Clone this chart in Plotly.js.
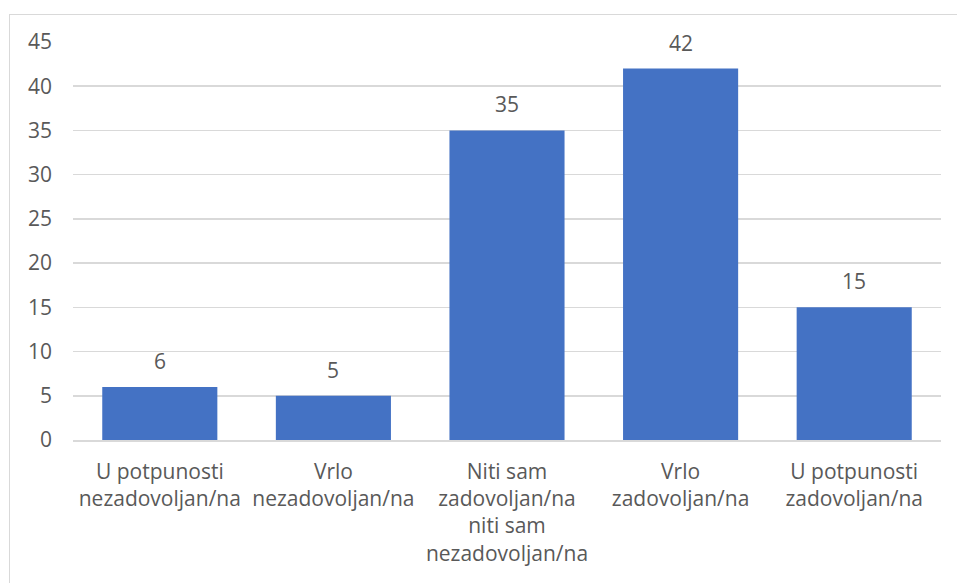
<!DOCTYPE html>
<html>
<head>
<meta charset="utf-8">
<script src="https://cdn.plot.ly/plotly-3.0.1.min.js"></script>
<style>
  html, body { margin: 0; padding: 0; background: #ffffff; }
  #frame { position: absolute; left: 9px; top: 14px; width: 960px; height: 600px; border: 1px solid #d9d9d9; box-sizing: border-box; }
  #chart { position: absolute; left: 0; top: 0; width: 957px; height: 583px; }
</style>
</head>
<body>
<div id="frame"></div>
<div id="chart"></div>
<script>
const categories = [
  "U potpunosti<br>nezadovoljan/na",
  "Vrlo<br>nezadovoljan/na",
  "Niti sam<br>zadovoljan/na<br>niti sam<br>nezadovoljan/na",
  "Vrlo<br>zadovoljan/na",
  "U potpunosti<br>zadovoljan/na"
];
const values = [6, 5, 35, 42, 15];
const yTicks = [0, 5, 10, 15, 20, 25, 30, 35, 40, 45];

const FONT = "'Open Sans', sans-serif";
const TXT = "#595959";
const FS = 21;

const trace = {
  type: "bar",
  x: categories,
  y: values,
  marker: { color: "#4472C4" },
  hoverinfo: "none"
};

const annotations = categories.map((c, i) => ({
  x: c, y: values[i], xref: "x", yref: "y",
  text: String(values[i]),
  showarrow: false, yanchor: "bottom", yshift: 10,
  font: { family: FONT, size: FS, color: TXT }
}));

const layout = {
  width: 957, height: 583,
  margin: { l: 73, r: 16, t: 42, b: 143 },
  paper_bgcolor: "rgba(0,0,0,0)",
  plot_bgcolor: "rgba(0,0,0,0)",
  bargap: 0.337,
  showlegend: false,
  font: { family: FONT, size: FS, color: TXT },
  xaxis: {
    type: "category",
    showgrid: false,
    showline: true, linecolor: "#d9d9d9", linewidth: 1.5,
    ticks: "", ticklabelstandoff: 12,
    tickfont: { family: FONT, size: FS, color: TXT },
    fixedrange: true
  },
  yaxis: {
    range: [0, 45],
    tickvals: yTicks,
    ticktext: yTicks.map(String),
    showgrid: true, gridcolor: "#d9d9d9", gridwidth: 1.5,
    zeroline: false, showline: false,
    ticks: "", ticklabelstandoff: 20,
    tickfont: { family: FONT, size: FS, color: TXT },
    fixedrange: true
  },
  annotations: annotations
};

Plotly.newPlot("chart", [trace], layout, { displayModeBar: false, staticPlot: true });
</script>
</body>
</html>
